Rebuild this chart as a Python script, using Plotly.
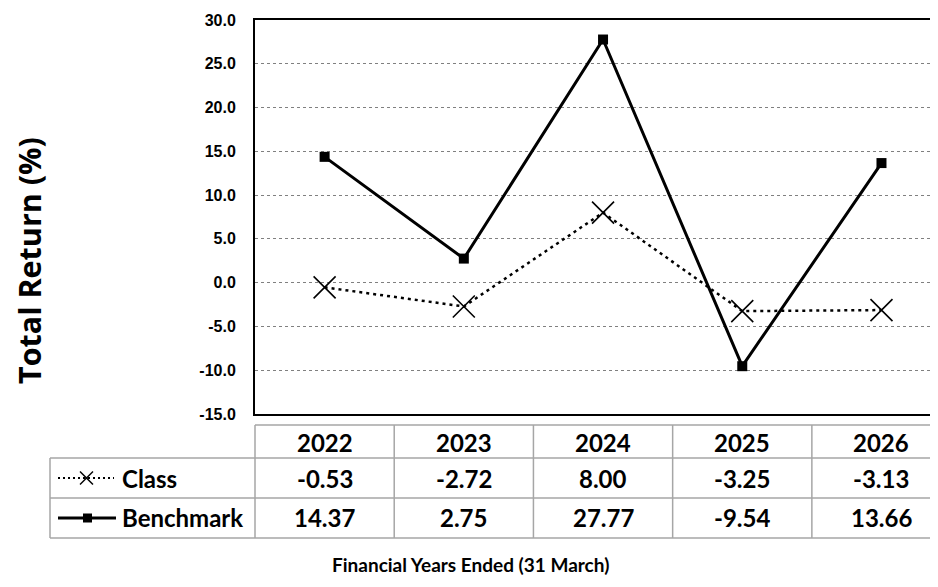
import plotly.graph_objects as go

years = ["2022", "2023", "2024", "2025", "2026"]
class_ret = [-0.53, -2.72, 8.00, -3.25, -3.13]
bench_ret = [14.37, 2.75, 27.77, -9.54, 13.66]
series_names = ["Class", "Benchmark"]
y_ticks = [-15, -10, -5, 0, 5, 10, 15, 20, 25, 30]
y_title = "Total Return (%)"
x_title = "Financial Years Ended (31 March)"

OFF = 8  # page body margin
W, H = 930, 571
L, R, T = 247, 0, 12
PLOT_BOTTOM = 406
B = H - PLOT_BOTTOM
PW, PH = W - L - R, PLOT_BOTTOM - T
XMIN, XMAX = -0.5, 4.406


def px(xr):
    # reference-page pixel x -> paper x
    return (xr - OFF - L) / PW


def py(yr):
    return (PLOT_BOTTOM - (yr - OFF)) / PH


def cat_x(v):
    return (v - XMIN) / (XMAX - XMIN)


fig = go.Figure()
fig.add_trace(go.Scatter(
    x=years, y=class_ret, name=series_names[0], mode="lines+markers",
    line=dict(color="black", width=2.5, dash="3px,4px"),
    marker=dict(symbol="x-thin-open", size=22, line=dict(color="black", width=1.6)),
    cliponaxis=False,
))
fig.add_trace(go.Scatter(
    x=years, y=bench_ret, name=series_names[1], mode="lines+markers",
    line=dict(color="black", width=3),
    marker=dict(symbol="square", size=10, color="black"),
    cliponaxis=False,
))

shapes = []
ann = []
TB = "#a6a6a6"
tfont = dict(family="Lato", size=24, color="black", weight="bold")

y_hdr_top, y_r1, y_r2, y_bot = 425, 458, 498, 538
x_left = 50
shapes.append(dict(type="line", xref="paper", yref="paper", x0=0, x1=1.02,
                   y0=py(y_hdr_top), y1=py(y_hdr_top), line=dict(color=TB, width=1.5)))
for yy in (y_r1, y_r2, y_bot):
    shapes.append(dict(type="line", xref="paper", yref="paper", x0=px(x_left), x1=1.02,
                       y0=py(yy), y1=py(yy), line=dict(color=TB, width=1.5)))
shapes.append(dict(type="line", xref="paper", yref="paper", x0=px(x_left), x1=px(x_left),
                   y0=py(y_r1), y1=py(y_bot), line=dict(color=TB, width=1.5)))
for i in range(len(years)):
    xe = cat_x(i - 0.5)
    shapes.append(dict(type="line", xref="paper", yref="paper", x0=xe, x1=xe,
                       y0=py(y_hdr_top), y1=py(y_bot), line=dict(color=TB, width=1.5)))

yc_hdr, yc_1, yc_2 = (y_hdr_top + y_r1) / 2 + 1, (y_r1 + y_r2) / 2, (y_r2 + y_bot) / 2
for i, yr in enumerate(years):
    xc = cat_x(i)
    ann.append(dict(x=xc, xref="paper", y=py(yc_hdr), yref="paper", text=yr, showarrow=False,
                    font=tfont, xanchor="center", yanchor="middle"))
    ann.append(dict(x=xc, xref="paper", y=py(yc_1), yref="paper", text=f"{class_ret[i]:.2f}",
                    showarrow=False, font=tfont, xanchor="center", yanchor="middle"))
    ann.append(dict(x=xc, xref="paper", y=py(yc_2), yref="paper", text=f"{bench_ret[i]:.2f}",
                    showarrow=False, font=tfont, xanchor="center", yanchor="middle"))

for name, yc in zip(series_names, (yc_1, yc_2)):
    ann.append(dict(x=px(120), xref="paper", y=py(yc), yref="paper", text=name, showarrow=False,
                    font=tfont, xanchor="left", yanchor="middle"))

# legend keys drawn inside the table
shapes.append(dict(type="line", xref="paper", yref="paper", x0=px(58), x1=px(114),
                   y0=py(yc_1), y1=py(yc_1), line=dict(color="black", width=2, dash="2px,3px")))
for d in (-1, 1):
    shapes.append(dict(type="line", xref="paper", yref="paper", x0=px(80), x1=px(93),
                       y0=py(yc_1 - 6.5 * d), y1=py(yc_1 + 6.5 * d), line=dict(color="black", width=1.5)))
shapes.append(dict(type="line", xref="paper", yref="paper", x0=px(58), x1=px(116),
                   y0=py(yc_2), y1=py(yc_2), line=dict(color="black", width=3)))
shapes.append(dict(type="rect", xref="paper", yref="paper", x0=px(83), x1=px(92),
                   y0=py(yc_2 - 4.5), y1=py(yc_2 + 4.5), line=dict(width=0), fillcolor="black"))

ann.append(dict(x=px(29), xref="paper", y=py(261), yref="paper", text=y_title, textangle=-90,
                showarrow=False, font=dict(family="Open Sans", size=30.5, color="black", weight="bold"),
                xanchor="center", yanchor="middle"))
ann.append(dict(x=px(470), xref="paper", y=py(578), yref="paper", text=x_title,
                showarrow=False, font=dict(family="Lato", size=19, color="black", weight="bold"),
                xanchor="center", yanchor="bottom"))

fig.update_layout(
    width=W, height=H, margin=dict(l=L, r=R, t=T, b=B, pad=0),
    paper_bgcolor="white", plot_bgcolor="white", showlegend=False,
    shapes=shapes, annotations=ann,
    xaxis=dict(type="category", range=[XMIN, XMAX], showticklabels=False, showgrid=False,
               showline=True, linecolor="black", linewidth=2, mirror=True, zeroline=False),
    yaxis=dict(range=[-15, 30], tickvals=y_ticks, ticktext=[f"{v:.1f}" for v in y_ticks],
               showgrid=True, gridcolor="#808080", griddash="dot", gridwidth=1, zeroline=False,
               showline=True, linecolor="black", linewidth=2,
               ticks="", ticklabelstandoff=14,
               tickfont=dict(family="Liberation Sans", size=16, color="black", weight="bold")),
)

fig.write_html("out.html")
